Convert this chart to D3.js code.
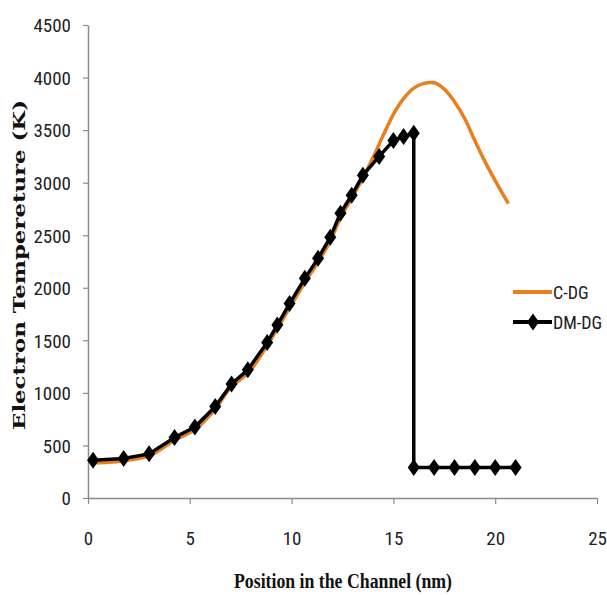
<!DOCTYPE html>
<html>
<head>
<meta charset="utf-8">
<script src="https://d3js.org/d3.v7.min.js"></script>
<style>
  body { margin: 0; background: #fff; }
  svg { display: block; }
</style>
</head>
<body>
<div id="chart"></div>
<script>
// C-DG (orange curve)
const cdgX = [0.25, 1, 1.75, 3, 4.25, 5.25, 6.25, 7, 7.9, 8.8, 9.3, 9.9, 10.65, 11.3, 11.9, 12.4, 12.95, 13.5, 14.0, 14.5, 15.0, 15.5, 16.0, 16.5, 17.0, 17.5, 18.0, 18.5, 19.0, 19.5, 20.0, 20.65];
const cdgY = [335, 340, 355, 400, 550, 650, 845, 1050, 1195, 1450, 1610, 1810, 2050, 2245, 2445, 2665, 2850, 3045, 3240, 3450, 3650, 3800, 3900, 3945, 3950, 3890, 3770, 3610, 3400, 3200, 3020, 2800];

// DM-DG (black line with diamonds)
const dmX = [0.25, 1.75, 3.0, 4.25, 5.25, 6.25, 7.05, 7.85, 8.8, 9.3, 9.9, 10.65, 11.3, 11.9, 12.4, 12.95, 13.5, 14.3, 15.0, 15.5, 16.0, 16.0, 17, 18, 19, 20, 21];
const dmY = [360, 375, 420, 575, 675, 870, 1085, 1220, 1480, 1645, 1850, 2090, 2280, 2480, 2710, 2880, 3070, 3250, 3400, 3440, 3470, 290, 290, 290, 290, 290, 290];

const xTicks = [0, 5, 10, 15, 20, 25];
const yTicks = [0, 500, 1000, 1500, 2000, 2500, 3000, 3500, 4000, 4500];

const width = 607, height = 595;
const plotLeft = 88, plotRight = 597, plotTop = 25, plotBottom = 498;

const svg = d3.select('#chart').append('svg')
  .attr('width', width)
  .attr('height', height);

const x = d3.scaleLinear().domain([0, 25]).range([plotLeft, plotRight]);
const y = d3.scaleLinear().domain([0, 4500]).range([plotBottom, plotTop]);

const axisColor = '#8c8c8c';
const tickFont = "'Liberation Sans Narrow', 'Arial Narrow', 'Roboto Condensed', sans-serif";

// y axis
const yAxis = svg.append('g')
  .attr('transform', `translate(${plotLeft},0)`)
  .call(d3.axisLeft(y).tickValues(yTicks).tickFormat(d3.format('d'))
    .tickSize(5).tickSizeOuter(0).tickPadding(12));
// x axis
const xAxis = svg.append('g')
  .attr('transform', `translate(0,${plotBottom})`)
  .call(d3.axisBottom(x).tickValues(xTicks).tickFormat(d3.format('d'))
    .tickSize(6).tickSizeOuter(0).tickPadding(28));

[xAxis, yAxis].forEach(a => {
  a.select('.domain').attr('stroke', axisColor).attr('stroke-width', 1.5);
  a.selectAll('.tick line').attr('stroke', axisColor).attr('stroke-width', 1.2);
  a.selectAll('.tick text')
    .attr('fill', '#222')
    .attr('font-family', tickFont)
    .attr('font-size', 19);
});
yAxis.selectAll('.tick text').attr('dy', '0.36em');

// axis titles
svg.append('text')
  .attr('x', 343)
  .attr('y', 588)
  .attr('text-anchor', 'middle')
  .attr('font-family', "'Liberation Serif', 'Times New Roman', serif")
  .attr('font-weight', 'bold')
  .attr('font-size', 20)
  .attr('textLength', 218)
  .attr('lengthAdjust', 'spacingAndGlyphs')
  .attr('fill', '#111')
  .text('Position in the Channel (nm)');

svg.append('text')
  .attr('transform', 'translate(25,265) rotate(-90)')
  .attr('text-anchor', 'middle')
  .attr('font-family', "'DejaVu Serif', serif")
  .attr('font-weight', 'bold')
  .attr('font-size', 16)
  .attr('textLength', 330)
  .attr('lengthAdjust', 'spacingAndGlyphs')
  .attr('fill', '#111')
  .text('Electron  Tempereture  (K)');

const orange = '#E8801F';

const cdg = cdgX.map((d, i) => [d, cdgY[i]]);
const dm = dmX.map((d, i) => [d, dmY[i]]);

// orange curve
svg.append('path')
  .datum(cdg)
  .attr('fill', 'none')
  .attr('stroke', orange)
  .attr('stroke-width', 3.5)
  .attr('stroke-linejoin', 'round')
  .attr('d', d3.line().x(d => x(d[0])).y(d => y(d[1])).curve(d3.curveCatmullRom));

// black line
svg.append('path')
  .datum(dm)
  .attr('fill', 'none')
  .attr('stroke', '#000')
  .attr('stroke-width', 3.5)
  .attr('d', d3.line().x(d => x(d[0])).y(d => y(d[1])));

// diamond markers
const diamond = 'M0,-8.5 L6,0 L0,8.5 L-6,0 Z';
svg.append('g').selectAll('path')
  .data(dm)
  .join('path')
  .attr('transform', d => `translate(${x(d[0])},${y(d[1])})`)
  .attr('d', diamond)
  .attr('fill', '#000');

// legend
const legend = svg.append('g');
legend.append('line')
  .attr('x1', 513).attr('x2', 552).attr('y1', 292).attr('y2', 292)
  .attr('stroke', orange).attr('stroke-width', 4);
legend.append('text')
  .attr('x', 553).attr('y', 299)
  .attr('font-family', tickFont).attr('font-size', 18).attr('fill', '#222')
  .text('C-DG');
legend.append('line')
  .attr('x1', 513).attr('x2', 552).attr('y1', 322).attr('y2', 322)
  .attr('stroke', '#000').attr('stroke-width', 4);
legend.append('path')
  .attr('transform', 'translate(533,322)')
  .attr('d', diamond)
  .attr('fill', '#000');
legend.append('text')
  .attr('x', 553).attr('y', 329)
  .attr('font-family', tickFont).attr('font-size', 18).attr('fill', '#222')
  .text('DM-DG');
</script>
</body>
</html>
